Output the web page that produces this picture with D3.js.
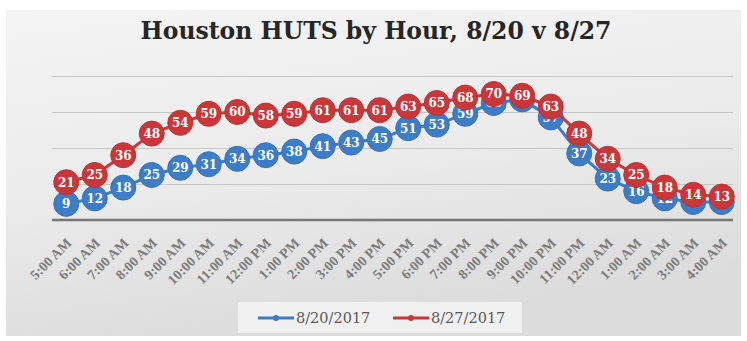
<!DOCTYPE html>
<html lang="en">
<head>
<meta charset="utf-8">
<title>Houston HUTS by Hour</title>
<script src="https://d3js.org/d3.v7.min.js"></script>
<style>
    body { margin: 0; background: #fff; }
    svg { display: block; }
    .title { font-family: "DejaVu Serif", serif; font-weight: bold; fill: #262626; }
    .tick-label { font-family: "Liberation Serif", serif; font-weight: bold; fill: #7a7a7a; font-size: 14px; }
    .dot-label { font-family: "DejaVu Serif", serif; font-weight: bold; fill: #fff; font-size: 12px; }
    .legend-text { font-family: "DejaVu Serif", serif; fill: #595959; font-size: 14.5px; }
</style>
</head>
<body>
<svg class="chart"></svg>
<script>
// chart data
var hours = ["5:00 AM", "6:00 AM", "7:00 AM", "8:00 AM", "9:00 AM", "10:00 AM", "11:00 AM",
    "12:00 PM", "1:00 PM", "2:00 PM", "3:00 PM", "4:00 PM", "5:00 PM", "6:00 PM", "7:00 PM",
    "8:00 PM", "9:00 PM", "10:00 PM", "11:00 PM", "12:00 AM", "1:00 AM", "2:00 AM", "3:00 AM", "4:00 AM"];
var huts0820 = [9, 12, 18, 25, 29, 31, 34, 36, 38, 41, 43, 45, 51, 53, 59, 65, 67, 57, 37, 23, 16, 12, 10, 10];
var huts0827 = [21, 25, 36, 48, 54, 59, 60, 58, 59, 61, 61, 61, 63, 65, 68, 70, 69, 63, 48, 34, 25, 18, 14, 13];
var seriesNames = ["8/20/2017", "8/27/2017"];
var gridValues = [20, 40, 60, 80];

function show() {
    'use strict';

    var W = 747, H = 341;
    var colors = ["#3d7cc6", "#c9373a"];
    var series = [huts0820, huts0827];

    var svg = d3.select(".chart").attr("width", W).attr("height", H);

    var defs = svg.append("defs");
    var grad = defs.append("linearGradient")
        .attr("id", "bg").attr("x1", 0).attr("y1", 0).attr("x2", 0.3).attr("y2", 1);
    grad.append("stop").attr("offset", "0%").attr("stop-color", "#f4f4f4");
    grad.append("stop").attr("offset", "55%").attr("stop-color", "#ebebeb");
    grad.append("stop").attr("offset", "100%").attr("stop-color", "#dcdcdc");

    svg.append("rect")
        .attr("x", 6).attr("y", 10)
        .attr("width", 735).attr("height", 326)
        .attr("fill", "url(#bg)");

    svg.append("text")
        .attr("class", "title")
        .attr("x", 376).attr("y", 39)
        .attr("text-anchor", "middle")
        .style("font-size", "23.5px")
        .text("Houston HUTS by Hour, 8/20 v 8/27");

    var x = d3.scaleBand().domain(hours).range([52, 736]);
    var y = d3.scaleLinear().domain([0, 80]).range([220, 76]);
    var cx = function (d, i) { return x(hours[i]) + x.bandwidth() / 2; };

    // gridlines
    svg.append("g")
        .attr("transform", "translate(52,0)")
        .call(d3.axisLeft(y).tickValues(gridValues).tickSize(-681).tickFormat(""))
        .call(function (g) {
            g.select(".domain").remove();
            g.selectAll(".tick line").attr("stroke", "#c6c6c6").attr("stroke-width", 1.2);
        });

    // baseline
    svg.append("line")
        .attr("x1", 52).attr("x2", 733)
        .attr("y1", y(0)).attr("y2", y(0))
        .attr("stroke", "#777").attr("stroke-width", 2.5);

    // category labels
    svg.append("g").selectAll("text")
        .data(hours)
        .enter().append("text")
        .attr("class", "tick-label")
        .attr("text-anchor", "end")
        .attr("transform", function (d) {
            return "translate(" + (x(d) + x.bandwidth() / 2 + 6) + ",244) rotate(-45)";
        })
        .text(function (d) { return d; });

    var line = d3.line().x(cx).y(function (d) { return y(d); });

    series.forEach(function (vals, s) {
        var g = svg.append("g");
        g.append("path")
            .datum(vals)
            .attr("d", line)
            .attr("fill", "none")
            .attr("stroke", colors[s])
            .attr("stroke-width", 3);
        g.selectAll("circle")
            .data(vals)
            .enter().append("circle")
            .attr("cx", cx)
            .attr("cy", function (d) { return y(d); })
            .attr("r", 12.5)
            .attr("fill", colors[s])
            .attr("stroke", d3.color(colors[s]).darker(0.2))
            .attr("stroke-width", 1);
        g.selectAll("text")
            .data(vals)
            .enter().append("text")
            .attr("class", "dot-label")
            .attr("x", cx)
            .attr("y", function (d) { return y(d); })
            .attr("dy", "0.36em")
            .attr("text-anchor", "middle")
            .text(function (d) { return d; });
    });

    // legend
    var legend = svg.append("g");
    legend.append("rect")
        .attr("x", 238).attr("y", 302)
        .attr("width", 284).attr("height", 31)
        .attr("fill", "#f0f0f0");
    var legendX = [258, 393];
    seriesNames.forEach(function (name, s) {
        legend.append("line")
            .attr("x1", legendX[s]).attr("x2", legendX[s] + 36)
            .attr("y1", 318).attr("y2", 318)
            .attr("stroke", colors[s]).attr("stroke-width", 3);
        legend.append("circle")
            .attr("cx", legendX[s] + 18).attr("cy", 318).attr("r", 3)
            .attr("fill", colors[s]);
        legend.append("text")
            .attr("class", "legend-text")
            .attr("x", legendX[s] + 38).attr("y", 323)
            .text(name);
    });
}
show();
</script>
</body>
</html>
